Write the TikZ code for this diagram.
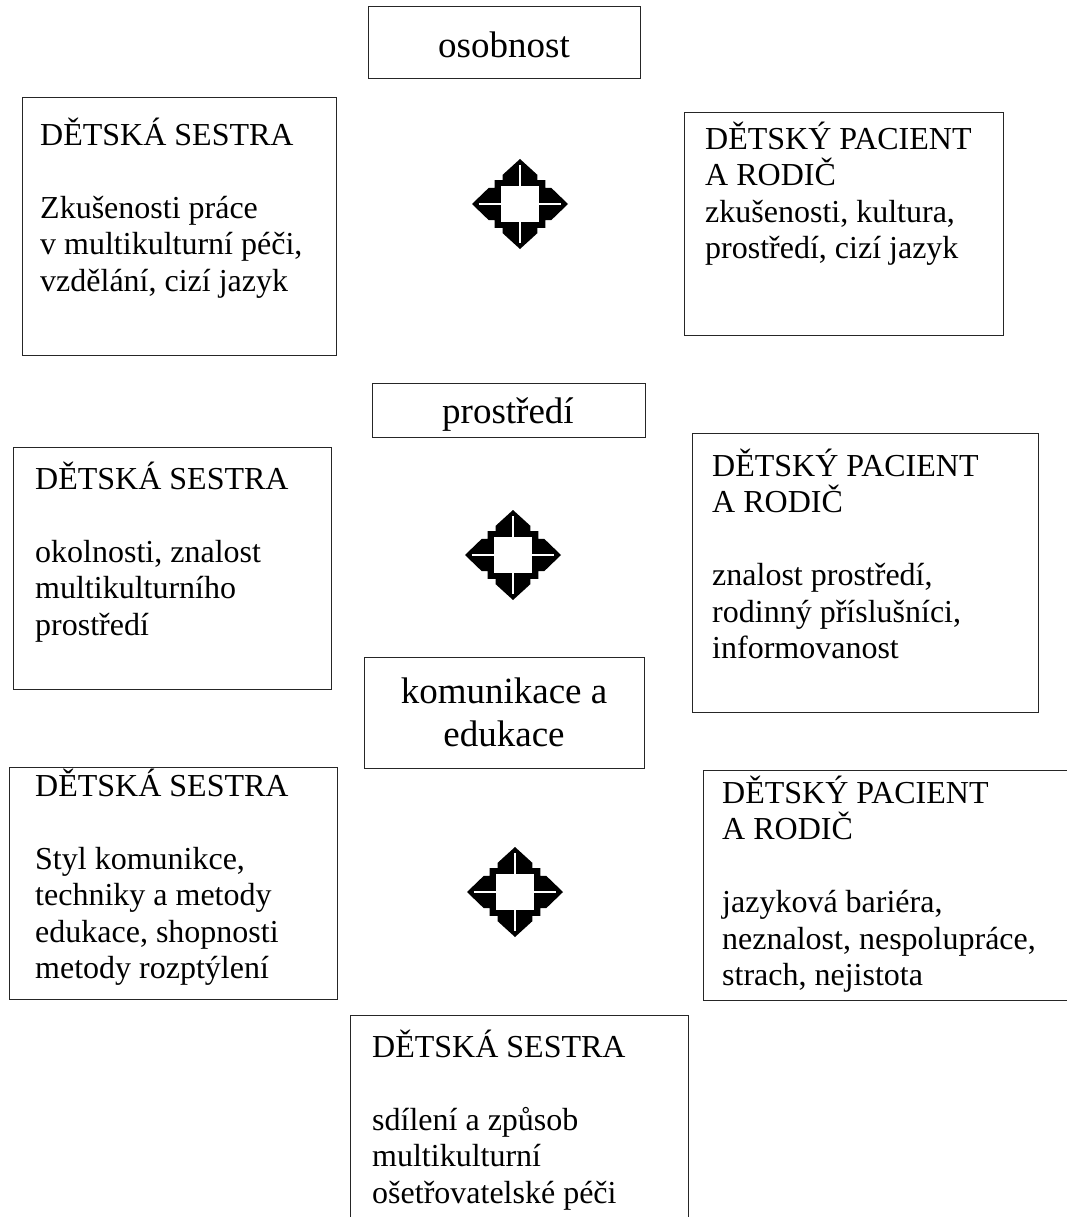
\documentclass[tikz,border=0pt]{standalone}
\usepackage{fontspec}
\setmainfont{Liberation Serif}
\begin{document}
\begin{tikzpicture}[x=1pt,y=-1pt,
  box/.style={draw=black!85, line width=1.2pt, anchor=north west, inner sep=0pt},
  txt/.style={anchor=north west, inner sep=0pt, align=left, font=\fontsize{32}{36.5}\selectfont},
  ctxt/.style={inner sep=0pt, align=center, font=\fontsize{37}{43}\selectfont},
  quadarrow/.pic={
    \fill[black] (1,0) -- (0.65,0.36) -- (0.53,0.36) -- (0.53,0.53) -- (0.36,0.53) -- (0.36,0.65)
      -- (0,1) -- (-0.36,0.65) -- (-0.36,0.53) -- (-0.53,0.53) -- (-0.53,0.36) -- (-0.65,0.36)
      -- (-1,0) -- (-0.65,-0.36) -- (-0.53,-0.36) -- (-0.53,-0.53) -- (-0.36,-0.53) -- (-0.36,-0.65)
      -- (0,-1) -- (0.36,-0.65) -- (0.36,-0.53) -- (0.53,-0.53) -- (0.53,-0.36) -- (0.65,-0.36) -- cycle;
    \fill[white] (-0.4,-0.4) rectangle (0.4,0.4);
    \draw[white, line width=2pt] (-0.86,0) -- (0.86,0) (0,-0.86) -- (0,0.86);
  }]
\useasboundingbox (0,0) rectangle (1067,1217);

% boxes
\node[box, minimum width=272pt, minimum height=72pt] (osob) at (368,6) {};
\node[box, minimum width=314pt, minimum height=258pt] (l1) at (22,97) {};
\node[box, minimum width=319pt, minimum height=223pt] (r1) at (684,112) {};
\node[box, minimum width=273pt, minimum height=54pt] (pros) at (372,383) {};
\node[box, minimum width=318pt, minimum height=242pt] (l2) at (13,447) {};
\node[box, minimum width=346pt, minimum height=279pt] (r2) at (692,433) {};
\node[box, minimum width=280pt, minimum height=111pt] (kom) at (364,657) {};
\node[box, minimum width=328pt, minimum height=232pt] (l3) at (9,767) {};
\node[box, minimum width=380pt, minimum height=230pt] (r3) at (703,770) {};
\node[box, minimum width=338pt, minimum height=215pt] (bot) at (350,1015) {};

% centre labels
\node[ctxt, anchor=base] (osobt) at (504,58) {osobnost};
\node[ctxt, anchor=base] (prost) at (508,423) {prostředí};
\node[ctxt, anchor=north] (komt) at (504,669) {\rule{0pt}{34pt}komunikace a\\edukace};

% side texts
\node[txt] (l1t) at (40,115) {\rule{0pt}{30pt}DĚTSKÁ SESTRA\\[36.5pt]Zkušenosti práce\\v multikulturní péči,\\vzdělání, cizí jazyk};
\node[txt] (r1t) at (705,119) {\rule{0pt}{30pt}DĚTSKÝ PACIENT\\A RODIČ\\zkušenosti, kultura,\\prostředí, cizí jazyk};
\node[txt] (l2t) at (35,459) {\rule{0pt}{30pt}DĚTSKÁ SESTRA\\[36.5pt]okolnosti, znalost\\multikulturního\\prostředí};
\node[txt] (r2t) at (712,446) {\rule{0pt}{30pt}DĚTSKÝ PACIENT\\A RODIČ\\[36.5pt]znalost prostředí,\\rodinný příslušníci,\\informovanost};
\node[txt] (l3t) at (35,766) {\rule{0pt}{30pt}DĚTSKÁ SESTRA\\[36.5pt]Styl komunikce,\\techniky a metody\\edukace, shopnosti\\metody rozptýlení};
\node[txt] (r3t) at (722,773) {\rule{0pt}{30pt}DĚTSKÝ PACIENT\\A RODIČ\\[36.5pt]jazyková bariéra,\\neznalost, nespolupráce,\\strach, nejistota};
\node[txt] (bott) at (372,1027) {\rule{0pt}{30pt}DĚTSKÁ SESTRA\\[36.5pt]sdílení a způsob\\multikulturní\\ošetřovatelské péči};

% four-way arrows
\pic[xscale=48, yscale=45] at (520,204) {quadarrow};
\pic[xscale=48, yscale=45] at (513,555) {quadarrow};
\pic[xscale=48, yscale=45] at (515,892) {quadarrow};
\end{tikzpicture}
\end{document}
